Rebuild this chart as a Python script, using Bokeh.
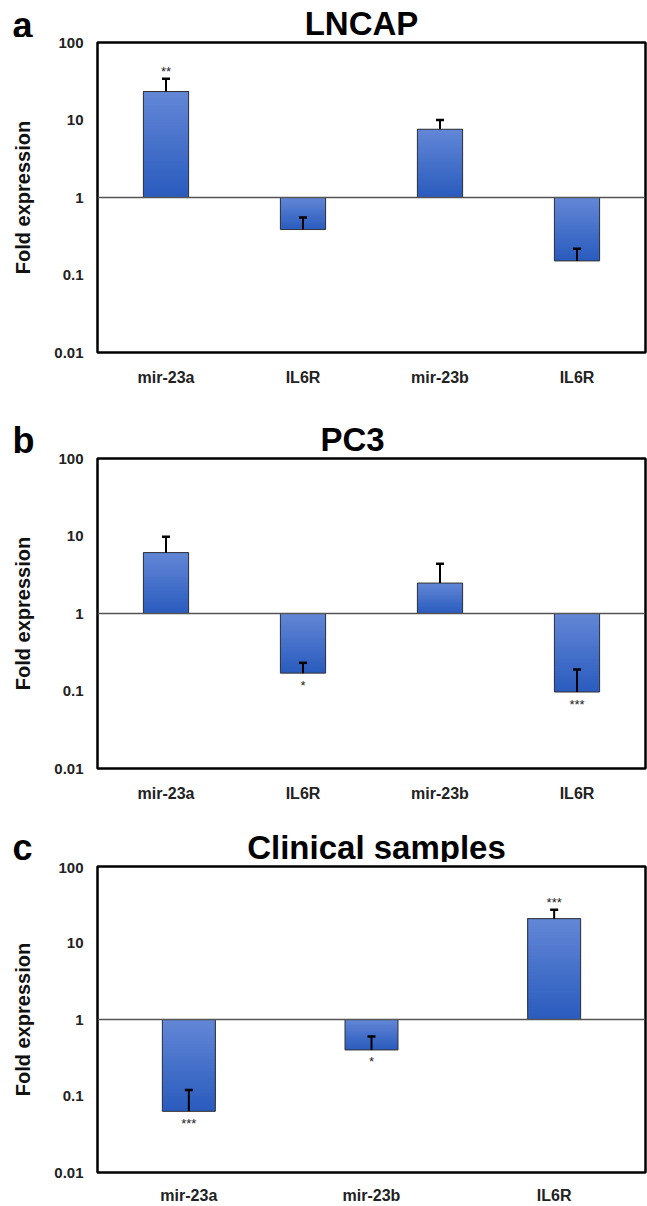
import numpy as np
from bokeh.plotting import figure
from bokeh.layouts import column
from bokeh.models import (ColumnDataSource, Whisker, TeeHead, Span, FixedTicker,
                          Range1d)
from bokeh.embed import file_html
from bokeh.resources import INLINE

FONT = "Liberation Sans"

# ---------------- data ----------------
lncap_genes = ["mir-23a", "IL6R", "mir-23b", "IL6R"]
lncap_fold = [23.3, 0.386, 7.6, 0.152]
lncap_err_top = [34.0, 0.55, 10.0, 0.218]
lncap_sig = ["**", "", "", ""]

pc3_genes = ["mir-23a", "IL6R", "mir-23b", "IL6R"]
pc3_fold = [6.1, 0.17, 2.47, 0.097]
pc3_err_top = [9.8, 0.231, 4.38, 0.19]
pc3_sig = ["", "*", "", "***"]

clin_genes = ["mir-23a", "mir-23b", "IL6R"]
clin_fold = [0.063, 0.40, 20.8]
clin_err_top = [0.12, 0.60, 27.2]
clin_sig = ["***", "*", "***"]

y_ticks = [0.01, 0.1, 1, 10, 100]
y_tick_labels = ["0.01", "0.1", "1", "10", "100"]

TOP_RGB = np.array([98, 134, 214])
BOT_RGB = np.array([42, 92, 190])
N_SLICES = 30
W = 647


def hexcol(rgb):
    r, g, b = [int(round(c)) for c in rgb]
    return "#%02x%02x%02x" % (r, g, b)


def make_header(letter, title, h, letter_mid, title_x, title_mid):
    hp = figure(width=W, height=h, x_range=Range1d(0, W), y_range=Range1d(h, 0),
                output_backend="svg", toolbar_location=None,
                x_axis_location=None, y_axis_location=None,
                min_border=0, min_border_left=0, min_border_right=0,
                min_border_top=0, min_border_bottom=0)
    hp.frame_align = False
    hp.outline_line_color = None
    hp.grid.visible = False
    hp.background_fill_color = "white"
    hp.border_fill_color = "white"
    hp.text(x=[12], y=[letter_mid], text=[letter], text_font={"value": FONT},
            text_font_style="bold", text_font_size="36px", text_align="left",
            text_baseline="middle", text_color="black")
    hp.text(x=[title_x], y=[title_mid], text=[title], text_font={"value": FONT},
            text_font_style="bold", text_font_size="33px", text_align="center",
            text_baseline="middle", text_color="black")
    return hp


def make_panel(genes, fold, err_top, sig, height, b_top, b_bottom, bar_w,
               xlab_standoff):
    n = len(genes)
    idx = list(range(n))
    p = figure(width=W, height=height, y_axis_type="log",
               x_range=Range1d(-0.5, n - 0.5), y_range=Range1d(0.01, 100),
               output_backend="svg", toolbar_location=None,
               min_border_left=97, min_border_right=2,
               min_border_top=b_top, min_border_bottom=b_bottom)
    p.frame_align = False
    p.background_fill_color = "white"
    p.border_fill_color = "white"
    p.outline_line_color = "black"
    p.outline_line_width = 2.5
    p.xgrid.visible = False
    p.ygrid.visible = False

    # gradient bars: overlapping slices, darkest (bottom) first
    xs, bots, tops, cols = [], [], [], []
    for i, v in zip(idx, fold):
        lo, hi = min(1.0, v), max(1.0, v)
        edges = np.geomspace(lo, hi, N_SLICES + 1)
        for k in range(N_SLICES):
            t = k / (N_SLICES - 1)
            xs.append(i)
            bots.append(edges[k])
            tops.append(hi)
            cols.append(hexcol(BOT_RGB + (TOP_RGB - BOT_RGB) * t))
    p.vbar(x=xs, width=bar_w, bottom=bots, top=tops, fill_color=cols,
           line_color=None)
    p.vbar(x=idx, width=bar_w, bottom=[min(1.0, v) for v in fold],
           top=[max(1.0, v) for v in fold], fill_color=None,
           line_color="#333333", line_width=1)

    # baseline at 1
    p.add_layout(Span(location=1, dimension="width", line_color="#555555",
                      line_width=1.5))

    # error bars
    src = ColumnDataSource(dict(x=idx, lower=fold, upper=err_top))
    w = Whisker(base="x", lower="lower", upper="upper", source=src,
                dimension="height", line_color="black", line_width=2,
                upper_head=TeeHead(size=8, line_width=2.5, line_color="black"),
                lower_head=None, level="overlay")
    p.add_layout(w)

    # significance stars
    anchor = [e if v > 1 else v for v, e in zip(fold, err_top)]
    offs = [-7 if v > 1 else 12 for v in fold]
    p.text(x=idx, y=anchor, text=sig, y_offset=offs, text_align="center",
           text_baseline="middle", text_font_size="13px",
           text_color="#222222", text_font={"value": FONT})

    # axes
    p.xaxis.ticker = FixedTicker(ticks=idx, minor_ticks=[])
    p.xaxis.major_label_overrides = {i: g for i, g in zip(idx, genes)}
    p.yaxis.ticker = FixedTicker(ticks=y_ticks, minor_ticks=[])
    p.yaxis.major_label_overrides = dict(zip(y_ticks, y_tick_labels))
    for ax in (p.xaxis[0], p.yaxis[0]):
        ax.axis_line_color = None
        ax.major_tick_line_color = None
        ax.minor_tick_line_color = None
        ax.major_tick_out = 0
        ax.major_tick_in = 0
        ax.major_label_text_font = FONT
        ax.major_label_text_font_style = "bold"
        ax.major_label_text_color = "#222222"
    p.xaxis.major_label_text_font_size = "16px"
    p.xaxis.major_label_standoff = xlab_standoff
    p.yaxis.major_label_text_font_size = "15px"
    p.yaxis.major_label_standoff = 14
    p.yaxis.axis_label = "Fold expression"
    p.yaxis.axis_label_text_font = FONT
    p.yaxis.axis_label_text_font_style = "bold"
    p.yaxis.axis_label_text_font_size = "20px"
    p.yaxis.axis_label_text_color = "#111111"
    p.yaxis.axis_label_standoff = 17
    return p


h1 = make_header("a", "LNCAP", 37, 24.5, 361, 23)
p1 = make_panel(lncap_genes, lncap_fold, lncap_err_top, lncap_sig,
                363, 5, 48, 0.33, 16)
h2 = make_header("b", "PC3", 53, 39.5, 352, 38.6)
p2 = make_panel(pc3_genes, pc3_fold, pc3_err_top, pc3_sig,
                353, 5, 38, 0.33, 16)
h3 = make_header("c", "Clinical samples", 56, 40.5, 376, 40.6)
p3 = make_panel(clin_genes, clin_fold, clin_err_top, clin_sig,
                344, 4, 32, 0.29, 14)

layout = column(h1, p1, h2, p2, h3, p3)
open("out.html", "w").write(file_html(layout, INLINE))
